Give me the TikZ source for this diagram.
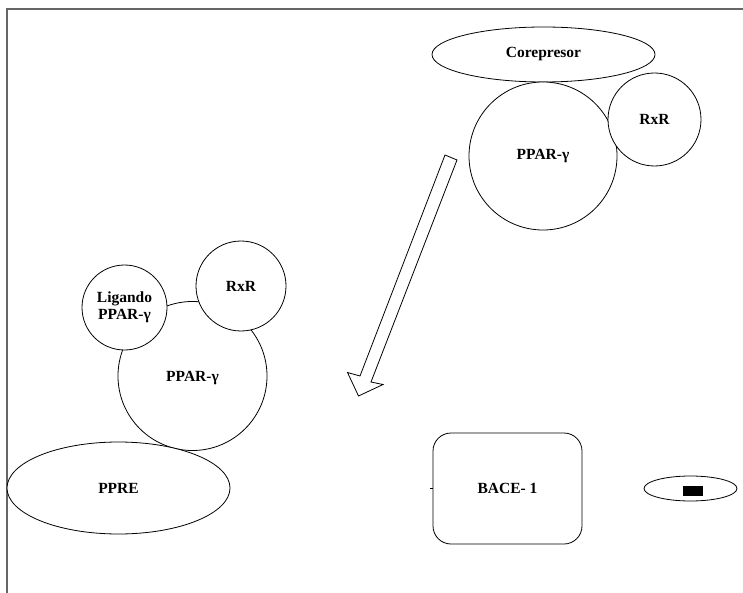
\documentclass[tikz,border=0pt]{standalone}
\usepackage{fontspec}
\setmainfont{Liberation Serif}
\usetikzlibrary{shapes.geometric}
\tikzset{
  lbl/.style={font=\fontsize{15.5}{17}\selectfont\bfseries, text=black},
  ball/.style={circle, draw=black, fill=white, line width=0.8pt, inner sep=0pt, lbl},
  oval/.style={ellipse, draw=black, fill=white, line width=0.8pt, inner sep=0pt, lbl},
  frameline/.style={draw=black!60, line width=1.2pt}
}
\begin{document}
\begin{tikzpicture}[x=1pt,y=-1pt]
\useasboundingbox (0,0) rectangle (743,593);
% frame along top and left edges
\draw[frameline] (7,593) -- (7,9) -- (743,9);

% repressed complex (top right)
\node[oval, minimum width=223pt, minimum height=55pt] (corep) at (543.5,54.5) {Corepresor};
\node[ball, minimum size=148pt] (ppar1) at (543,156) {PPAR-γ};
\node[ball, minimum size=93pt] (rxr1) at (654.5,119.5) {RxR};

% block arrow
\coordinate (tailL) at (445,155);
\coordinate (tailR) at (457,160);
\coordinate (neckR) at (371,382);
\coordinate (wingR) at (383,384.5);
\coordinate (tip) at (358.5,396);
\coordinate (wingL) at (347.5,372.5);
\coordinate (neckL) at (360,376);
\draw[line width=0.8pt, fill=white, line join=miter]
  (tailL) -- (tailR) -- (neckR) -- (wingR) -- (tip) -- (wingL) -- (neckL) -- cycle;

% active complex (left)
\node[ball, minimum size=149pt] (ppar2) at (192.5,376) {};
\node[lbl] at (192.5,378) {PPAR-γ};
\node[ball, minimum size=85pt, align=center] (lig) at (124.5,307.5) {Ligando\\PPAR-γ};
\node[ball, minimum size=90pt] (rxr2) at (241,286) {RxR};
\node[oval, minimum width=223pt, minimum height=92pt] (ppre) at (118.5,488) {PPRE};

% BACE-1 gene box
\node[draw=black, fill=white, line width=0.8pt, rounded corners=18pt,
      minimum width=149pt, minimum height=111pt, lbl] (bace) at (507.5,488.5) {BACE- 1};
\draw[line width=0.6pt] (bace.west) -- ++(-2.5,0);

% small ellipse with filled mark
\node[oval, minimum width=93pt, minimum height=25pt] (small) at (690.5,488.5) {};
\node[fill=black, minimum width=20pt, minimum height=10pt, inner sep=0pt] (mark) at (693,491) {};
\end{tikzpicture}
\end{document}
